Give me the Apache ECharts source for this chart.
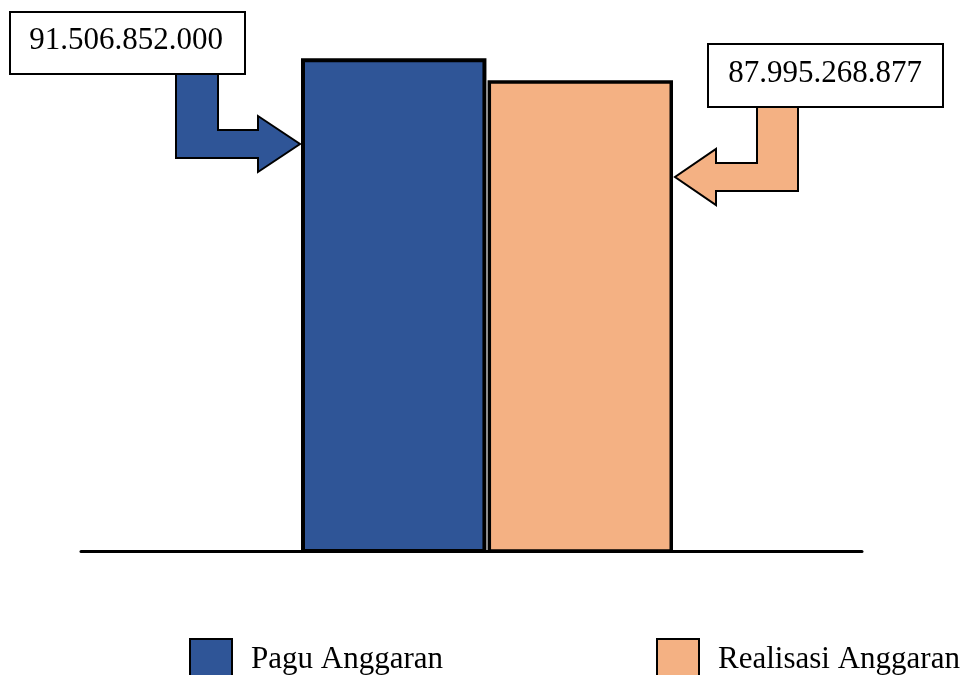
<!DOCTYPE html>
<html>
<head>
<meta charset="utf-8">
<script src="https://cdn.jsdelivr.net/npm/echarts@6/dist/echarts.min.js"></script>
<style>html,body{margin:0;padding:0;background:#fff}#c{width:960px;height:675px}</style>
</head>
<body>
<div id="c"></div>
<script>
var categories = [''];
var seriesNames = ['Pagu Anggaran', 'Realisasi Anggaran'];
var paguValues = [91506852000];
var realisasiValues = [87995268877];
var seriesColors = ['#2F5597', '#F4B183'];

function fmt(v) { return String(Math.round(v)).replace(/\B(?=(\d{3})+(?!\d))/g, '.'); }

var FONT = '"Liberation Serif", "Times New Roman", serif';
var yMin = 13e9, yMax = 100e9;

var chart = echarts.init(document.getElementById('c'), null, { renderer: 'canvas' });
chart.setOption({
  animation: false,
  backgroundColor: '#fff',
  grid: [
    { left: 81, right: 98, top: 5, bottom: 124 },
    { left: 301, right: 287, top: 5, bottom: 124 }
  ],
  xAxis: [
    { gridIndex: 0, type: 'category', data: categories,
      axisLine: { show: true, lineStyle: { color: '#000', width: 3 } },
      axisTick: { show: false }, axisLabel: { show: false }, splitLine: { show: false } },
    { gridIndex: 1, type: 'category', data: categories,
      axisLine: { show: false }, axisTick: { show: false }, axisLabel: { show: false } }
  ],
  yAxis: [
    { gridIndex: 0, type: 'value', min: yMin, max: yMax, show: false, splitLine: { show: false } },
    { gridIndex: 1, type: 'value', min: yMin, max: yMax, show: false, splitLine: { show: false } }
  ],
  legend: [
    { data: [seriesNames[0]], left: 184, top: 633, itemWidth: 42, itemHeight: 42,
      icon: 'rect', itemStyle: { borderColor: '#000', borderWidth: 2 },
      textStyle: { fontFamily: FONT, fontSize: 31, color: '#000', padding: [0, 0, 26, 14] } },
    { data: [seriesNames[1]], left: 651, top: 633, itemWidth: 42, itemHeight: 42,
      icon: 'rect', itemStyle: { borderColor: '#000', borderWidth: 2 },
      textStyle: { fontFamily: FONT, fontSize: 31, color: '#000', padding: [0, 0, 26, 14] } }
  ],
  series: [
    { name: seriesNames[0], type: 'bar', xAxisIndex: 1, yAxisIndex: 1, data: paguValues,
      barGap: '0.6%', barCategoryGap: '0%',
      itemStyle: { color: seriesColors[0], borderColor: '#000', borderWidth: 4 } },
    { name: seriesNames[1], type: 'bar', xAxisIndex: 1, yAxisIndex: 1, data: realisasiValues,
      barGap: '0.6%', barCategoryGap: '0%',
      itemStyle: { color: seriesColors[1], borderColor: '#000', borderWidth: 3.5 } }
  ],
  graphic: [
    { type: 'polygon', z: 10,
      shape: { points: [[176,74],[218,74],[218,130],[258,130],[258,116],[300,144],[258,172],[258,158],[176,158]] },
      style: { fill: seriesColors[0], stroke: '#000', lineWidth: 2 } },
    { type: 'rect', z: 10, shape: { x: 10, y: 12, width: 235, height: 62 },
      style: { fill: '#fff', stroke: '#000', lineWidth: 2 } },
    { type: 'text', z: 11,
      style: { text: fmt(paguValues[0]), x: 126, y: 41, font: '31px ' + FONT, fill: '#000',
        align: 'center', verticalAlign: 'middle', textAlign: 'center', textVerticalAlign: 'middle' } },
    { type: 'polygon', z: 10,
      shape: { points: [[757,107],[798,107],[798,191],[716,191],[716,205],[675,177],[716,149],[716,163],[757,163]] },
      style: { fill: seriesColors[1], stroke: '#000', lineWidth: 2 } },
    { type: 'rect', z: 10, shape: { x: 708, y: 44, width: 235, height: 63 },
      style: { fill: '#fff', stroke: '#000', lineWidth: 2 } },
    { type: 'text', z: 11,
      style: { text: fmt(realisasiValues[0]), x: 825, y: 74, font: '31px ' + FONT, fill: '#000',
        align: 'center', verticalAlign: 'middle', textAlign: 'center', textVerticalAlign: 'middle' } }
  ]
});
</script>
</body>
</html>
